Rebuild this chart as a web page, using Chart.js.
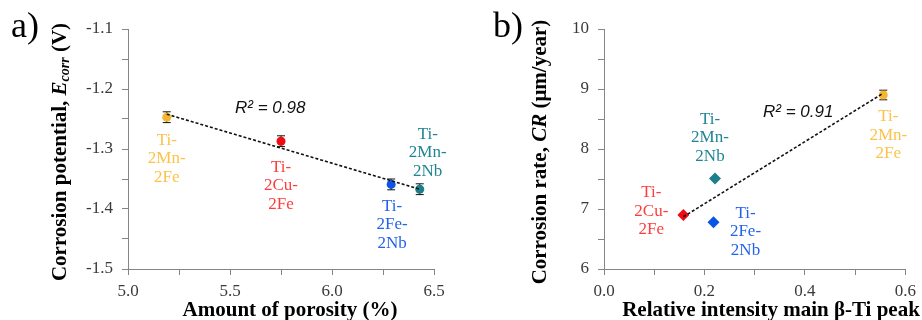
<!DOCTYPE html>
<html>
<head>
<meta charset="utf-8">
<script src="https://cdn.jsdelivr.net/npm/chart.js@4.4.0/dist/chart.umd.min.js"></script>
<style>
  html, body { margin: 0; padding: 0; background: #fff; }
  .panel { position: absolute; top: 0; width: 461px; height: 320px; }
</style>
</head>
<body>
<div class="panel" style="left:0"><canvas id="chartA"></canvas></div>
<div class="panel" style="left:461px"><canvas id="chartB"></canvas></div>
<script>
// data
const alloys = ['Ti-2Mn-2Fe', 'Ti-2Cu-2Fe', 'Ti-2Fe-2Nb', 'Ti-2Mn-2Nb'];
const alloyLines = [['Ti-', '2Mn-', '2Fe'], ['Ti-', '2Cu-', '2Fe'], ['Ti-', '2Fe-', '2Nb'], ['Ti-', '2Mn-', '2Nb']];

// a) porosity vs corrosion potential
const porosity = [5.19, 5.75, 6.29, 6.43];
const ecorr = [-1.247, -1.287, -1.359, -1.367];
const ecorrErr = [0.009, 0.009, 0.009, 0.009];
const trendAx = [5.19, 6.43];
const trendAy = [-1.242, -1.367];
const r2A = 'R² = 0.98';

// b) beta-Ti peak intensity vs corrosion rate
const betaPeak = [0.556, 0.158, 0.218, 0.221];
const corrRate = [8.9, 6.9, 6.78, 7.51];
const rateErr = [0.08, 0, 0, 0];
const trendBx = [0.158, 0.556];
const trendBy = [6.87, 8.93];
const r2B = 'R² = 0.91';

// tick labels
const yTicksA = ['-1.5', '-1.4', '-1.3', '-1.2', '-1.1'];
const xTicksA = ['5.0', '5.5', '6.0', '6.5'];
const yTicksB = ['6', '7', '8', '9', '10'];
const xTicksB = ['0.0', '0.2', '0.4', '0.6'];

const pointColors = ['#f5b52f', '#f00a14', '#0a55e6', '#1c7f8c'];
const labelColors = ['#fcc24a', '#ff3c3c', '#2363ea', '#1f8595'];
const SERIF = "'Liberation Serif', 'DejaVu Serif', serif";
const AXIS = '#858585';

function pickLabel(list, digits) {
  return function (v) {
    const s = digits === 0 ? String(Math.round(v)) : v.toFixed(digits);
    const close = Math.abs(Number(s) - v) < 1e-6;
    return close && list.includes(s) ? s : '';
  };
}

// titles, point labels, R² text and error bars
const annotPlugin = {
  id: 'annot',
  beforeDatasetsDraw(chart, args, opts) {
    const ctx = chart.ctx;
    const xs = chart.scales.x, ys = chart.scales.y;
    ctx.save();
    ctx.strokeStyle = '#111';
    ctx.lineWidth = 1;
    opts.errX.forEach((xv, i) => {
      const e = opts.err[i];
      if (!e) return;
      const px = xs.getPixelForValue(xv);
      const y1 = ys.getPixelForValue(opts.errY[i] + e);
      const y2 = ys.getPixelForValue(opts.errY[i] - e);
      ctx.beginPath();
      ctx.moveTo(px, y1); ctx.lineTo(px, y2);
      ctx.moveTo(px - 4, y1); ctx.lineTo(px + 4, y1);
      ctx.moveTo(px - 4, y2); ctx.lineTo(px + 4, y2);
      ctx.stroke();
    });
    ctx.restore();
  },
  afterDraw(chart, args, opts) {
    const ctx = chart.ctx;
    const xs = chart.scales.x, ys = chart.scales.y;
    ctx.save();

    // panel letter
    ctx.fillStyle = '#000';
    ctx.font = '36px ' + SERIF;
    ctx.textAlign = 'left';
    ctx.textBaseline = 'alphabetic';
    ctx.fillText(opts.letter, opts.letterX, 37);

    // x title
    ctx.font = 'bold 21px ' + SERIF;
    ctx.textAlign = 'center';
    ctx.fillText(opts.xTitle, opts.xTitleX, 316);

    // y title, pieces with italic / subscript
    ctx.save();
    ctx.translate(opts.yTitleX, 152);
    ctx.rotate(-Math.PI / 2);
    ctx.textAlign = 'left';
    ctx.textBaseline = 'middle';
    let total = 0;
    opts.yTitle.forEach(p => { ctx.font = p.font; total += ctx.measureText(p.t).width; });
    let cx = -total / 2;
    opts.yTitle.forEach(p => {
      ctx.font = p.font;
      ctx.fillText(p.t, cx, p.dy || 0);
      cx += ctx.measureText(p.t).width;
    });
    ctx.restore();

    // R² text
    ctx.font = 'italic 17px "Liberation Sans", Arial, sans-serif';
    ctx.textAlign = 'left';
    ctx.textBaseline = 'middle';
    ctx.fillStyle = '#111';
    ctx.fillText(opts.r2, opts.r2X, opts.r2Y);

    // point labels
    ctx.font = '17px ' + SERIF;
    ctx.textAlign = 'center';
    opts.labX.forEach((xv, i) => {
      const px = xs.getPixelForValue(xv) + opts.offsets[i][0];
      const py = ys.getPixelForValue(opts.labY[i]) + opts.offsets[i][1];
      ctx.fillStyle = labelColors[i];
      alloyLines[i].forEach((line, k) => ctx.fillText(line, px, py + k * 18.5));
    });
    ctx.restore();
  }
};

function axisOpts(min, max, step, labels, digits, isY, size) {
  return {
    type: 'linear',
    min: min, max: max,
    afterFit(scale) { if (isY) scale.width = size; else scale.height = size; },
    border: { display: true, color: AXIS, width: 1 },
    grid: { drawOnChartArea: false, drawTicks: true, tickLength: 6, color: AXIS },
    ticks: {
      stepSize: step,
      autoSkip: false,
      maxRotation: 0,
      padding: isY ? 9 : 6,
      color: '#3a3a3a',
      font: { family: SERIF, size: 17 },
      callback: pickLabel(labels, digits)
    }
  };
}

function makeChart(id, cfg) {
  const data = {
    datasets: [
      {
        type: 'line',
        data: cfg.trendX.map((x, i) => ({ x: x, y: cfg.trendY[i] })),
        borderColor: '#111',
        borderWidth: 1.6,
        borderDash: [3, 2],
        pointRadius: 0,
        fill: false
      },
      {
        type: 'scatter',
        data: cfg.x.map((x, i) => ({ x: x, y: cfg.y[i] })),
        backgroundColor: pointColors,
        borderColor: pointColors,
        pointStyle: cfg.styles,
        pointRadius: cfg.radius,
        pointBorderWidth: 0
      }
    ]
  };
  return new Chart(document.getElementById(id), {
    type: 'scatter',
    data: data,
    options: {
      responsive: true,
      maintainAspectRatio: false,
      animation: false,
      layout: { padding: { left: 0, top: 29, right: cfg.padRight, bottom: 0 } },
      plugins: {
        legend: { display: false },
        tooltip: { enabled: false },
        annot: cfg.annot
      },
      scales: {
        x: axisOpts(cfg.xMin, cfg.xMax, cfg.xStep, cfg.xLabels, 1, false, 51),
        y: axisOpts(cfg.yMin, cfg.yMax, cfg.yStep, cfg.yLabels, cfg.yDigits, true, cfg.left)
      }
    },
    plugins: [annotPlugin]
  });
}

makeChart('chartA', {
  x: porosity, y: ecorr, trendX: trendAx, trendY: trendAy,
  styles: ['circle', 'circle', 'circle', 'circle'], radius: 4.5,
  xMin: 5.0, xMax: 6.5, xStep: 0.25, xLabels: xTicksA,
  yMin: -1.5, yMax: -1.1, yStep: 0.05, yLabels: yTicksA, yDigits: 1,
  left: 128, padRight: 27,
  annot: {
    letter: 'a)', letterX: 11,
    xTitle: 'Amount of porosity (%)', xTitleX: 290,
    yTitleX: 61,
    yTitle: [
      { t: 'Corrosion potential, ', font: 'bold 21px ' + SERIF },
      { t: 'E', font: 'italic bold 21px ' + SERIF },
      { t: 'corr', font: 'italic bold 14px ' + SERIF, dy: 4 },
      { t: ' (V)', font: 'bold 21px ' + SERIF }
    ],
    r2: r2A, r2X: 235, r2Y: 108,
    labX: porosity, labY: ecorr,
    offsets: [[0, 23], [0, 26], [1, 22], [8, -55]],
    errX: porosity, errY: ecorr, err: ecorrErr
  }
});

makeChart('chartB', {
  x: betaPeak, y: corrRate, trendX: trendBx, trendY: trendBy,
  styles: ['circle', 'rectRot', 'rectRot', 'rectRot'], radius: [4.5, 6, 6, 6],
  xMin: 0, xMax: 0.6, xStep: 0.1, xLabels: xTicksB,
  yMin: 6, yMax: 10, yStep: 0.5, yLabels: yTicksB, yDigits: 0,
  left: 143, padRight: 13,
  annot: {
    letter: 'b)', letterX: 32,
    xTitle: 'Relative intensity main β-Ti peak', xTitleX: 310,
    yTitleX: 80,
    yTitle: [
      { t: 'Corrosion rate, ', font: 'bold 21px ' + SERIF },
      { t: 'CR', font: 'italic bold 21px ' + SERIF },
      { t: ' (μm/year)', font: 'bold 21px ' + SERIF }
    ],
    r2: r2B, r2X: 302, r2Y: 112,
    labX: betaPeak, labY: corrRate,
    offsets: [[5, 22], [-32, -22], [32, -9], [-5, -59]],
    errX: betaPeak, errY: corrRate, err: rateErr
  }
});
</script>
</body>
</html>
